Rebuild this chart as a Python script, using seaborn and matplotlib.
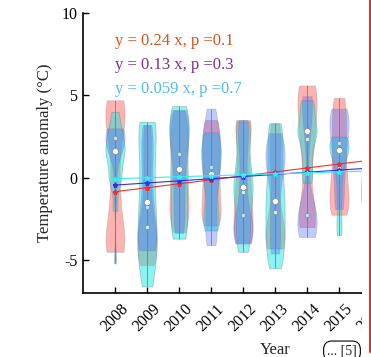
import numpy as np
import pandas as pd
import matplotlib
matplotlib.use('Agg')
import matplotlib.pyplot as plt
import seaborn as sns
from matplotlib.patches import Rectangle
from matplotlib.lines import Line2D

years = [2008, 2009, 2010, 2011, 2012, 2013, 2014, 2015, 2016]
tick_years = [2008, 2009, 2010, 2011, 2012, 2013, 2014, 2015, 2016, 2017, 2018]

# 温度距平 每年三组
red_vals = [
    [4.7, 4.3, 3.8, 3.4, 2.0, -0.1, -1.5, -3.3, -3.8, -4.2, -4.5],
    [3.2, 2.0, 0.5, -1.0, -2.3, -3.0, -3.5, -4.0, -4.5, -5.0, -5.3],
    [4.1, 3.2, 2.6, 1.8, 1.2, 0.0, -0.6, -1.4, -2.0, -2.6, -3.3],
    [3.5, 2.9, 2.2, 1.5, 0.8, 0.0, -0.6, -1.3, -2.0, -2.5, -2.9],
    [3.5, 3.2, 2.6, 1.0, 0.2, -0.85, -1.5, -2.2, -3.0, -3.6, -3.95],
    [3.3, 2.6, 1.6, 0.6, -0.6, -2.1, -2.8, -3.3, -3.8, -4.1, -4.3],
    [5.6, 5.2, 4.9, 4.0, 2.8, 2.35, 1.0, -1.0, -2.4, -2.7, -3.0],
    [4.85, 4.2, 3.2, 2.5, 1.6, 0.6, 0.0, -0.8, -1.4, -1.9, -2.25],
    [4.0, 3.0, 2.0, 1.0, 0.5, 0.0, -0.5, -1.0, -1.5, -2.0],
]
blue_vals = [
    [3.0, 2.9, 2.7, 2.5, 2.4, 2.4, 2.3, 1.9, 1.2, -1.0, -5.2],
    [3.2, 2.4, 1.4, 0.4, -0.8, -1.75, -2.5, -3.2, -3.7, -4.1, -4.4],
    [4.1, 3.6, 3.2, 2.6, 2.0, 1.45, 0.6, -0.4, -1.4, -2.4, -3.35],
    [4.2, 3.0, 2.4, 1.9, 1.3, 0.65, 0.0, -1.0, -2.2, -3.2, -4.1],
    [3.5, 3.0, 2.2, 0.6, -0.6, -2.25, -2.6, -3.0, -3.4, -3.7, -4.0],
    [2.7, 2.2, 1.7, 1.2, 0.8, 0.3, -0.6, -1.8, -2.8, -3.8, -4.6],
    [4.95, 4.6, 4.2, 2.4, -1.5, -2.25, -2.4, -2.7, -3.0, -3.3, -3.6],
    [4.2, 4.0, 3.6, 3.0, 2.6, 2.1, 1.4, 0.8, 0.0, -1.0, -1.9],
    [4.2, 3.5, 2.5, 1.5, 0.8, 0.2, -0.4, -1.0, -1.6, -2.0],
]
cyan_vals = [
    [4.0, 3.2, 2.6, 2.2, 1.8, 1.6, 1.2, 0.6, 0.0, -0.4, -2.0],
    [3.4, 3.2, 2.0, 0.8, -0.5, -1.5, -2.6, -3.6, -4.4, -5.2, -6.6],
    [4.35, 3.8, 3.0, 2.4, 1.4, 0.5, -0.3, -1.0, -2.2, -3.0, -3.7],
    [2.75, 2.3, 1.8, 1.2, 0.8, 0.2, -0.5, -1.4, -2.2, -2.8, -3.2],
    [3.4, 3.0, 2.0, 0.8, 0.0, -0.55, -1.0, -1.8, -2.8, -3.6, -4.5],
    [3.3, 2.5, 1.5, 0.3, -0.6, -1.4, -2.2, -3.0, -3.8, -4.6, -5.5],
    [4.7, 4.4, 4.0, 3.2, 2.9, 2.85, 2.4, 1.8, 1.0, 0.2, -0.3],
    [2.5, 2.2, 2.0, 1.9, 1.8, 1.7, 1.0, 0.2, -1.0, -2.5, -3.5],
    [3.5, 2.8, 2.0, 1.2, 0.6, 0.0, -0.6, -1.2, -1.8, -2.1],
]

# 趋势线
slopes = [0.24, 0.13, 0.059]
p_vals = [0.1, 0.3, 0.7]
start_vals = [-0.85, -0.45, -0.06]  # 2008年拟合值

line_colors = ['#f03030', '#3030f0', '#30f0f0']
text_colors = ['#D95319', '#7E2F8E', '#4DBEEE']

sns.set_theme(style='ticks')
plt.rcParams['font.family'] = ['Liberation Serif', 'DejaVu Serif']
plt.rcParams['axes.unicode_minus'] = False

fig = plt.figure(figsize=(3.71, 3.57), dpi=100)
ax = fig.add_axes([83 / 371, 64 / 357, 384 / 371, 280 / 357])

# 画图顺序: 红, 青, 蓝 (叠加出紫色和蓝灰色)
layers = [(red_vals, '#ff0000', 0.3, '#c8eef4'),
          (cyan_vals, '#00e6e6', 0.45, 'white'),
          (blue_vals, '#4466ff', 0.34, '#b4e6f2')]
medians = []
for vals, col, a, dot_col in layers:
    df = pd.DataFrame({'year': np.repeat(years, [len(v) for v in vals]),
                       'temp': np.concatenate(vals)})
    sns.violinplot(data=df, x='year', y='temp', native_scale=True, orient='x',
                   cut=0, width=0.6, density_norm='width', bw_adjust=0.6,
                   inner=None, color=col, saturation=1, linecolor='grey',
                   linewidth=0.6, alpha=a, ax=ax)
    stats = df.groupby('year')['temp'].agg(['min', 'max', 'median'])
    ax.vlines(stats.index, stats['min'], stats['max'], color='grey', lw=0.6, zorder=1)
    medians.append((stats, dot_col))

for stats, dot_col in medians:
    size = 18 if dot_col == 'white' else 10
    ax.scatter(stats.index, stats['median'], s=size, c=dot_col, edgecolors='grey',
               linewidths=0.4, zorder=1.5)

xs = np.array(tick_years)
for s, b, col in zip(slopes, start_vals, line_colors):
    ax.plot(xs, b + s * (xs - 2008), color=col, lw=0.8, marker='*', ms=3.5)

for i, (s, p, col) in enumerate(zip(slopes, p_vals, text_colors)):
    ax.text(2008, 8.32 - 1.46 * i, 'y = {0} x, p ={1}'.format(s, p), color=col,
            fontsize=12, va='center', ha='left')

ax.set_xlim(2007, 2019)
ax.set_ylim(-7, 10)
ax.set_xticks(tick_years)
ax.set_xticklabels([str(y) for y in tick_years], rotation=45, ha='center', fontsize=11.5)
ax.set_yticks([-5, 0, 5, 10])
ax.set_yticklabels(['-5', '0', '5', '10'], fontsize=11.5)
ax.tick_params(direction='in', length=4, width=1, colors='black', pad=4)
ax.tick_params(axis='x', pad=6)
ax.set_xlabel('Year', fontsize=12, labelpad=5)
ax.set_ylabel('Temperature anomaly (°C)', fontsize=12, labelpad=6)
for side in ['top', 'right']:
    ax.spines[side].set_visible(False)
for side in ['left', 'bottom']:
    ax.spines[side].set_linewidth(1.2)
    ax.spines[side].set_color('black')

# 右侧截图边框
fig.add_artist(Rectangle((362 / 371, 0), 9 / 371, 1, transform=fig.transFigure,
                         facecolor='white', edgecolor='none', zorder=5))
fig.add_artist(Line2D([370 / 371, 370 / 371], [5 / 357, 1], transform=fig.transFigure,
                      color='#e03030', lw=1.5, zorder=6))
fig.text(342 / 371, 1 - 351 / 357, '... [5]', ha='center', va='center', fontsize=10,
         zorder=7, bbox=dict(boxstyle='round,pad=0.25,rounding_size=0.6',
                             fc='white', ec='black', lw=0.8))

fig.savefig('out.png', dpi=100)
